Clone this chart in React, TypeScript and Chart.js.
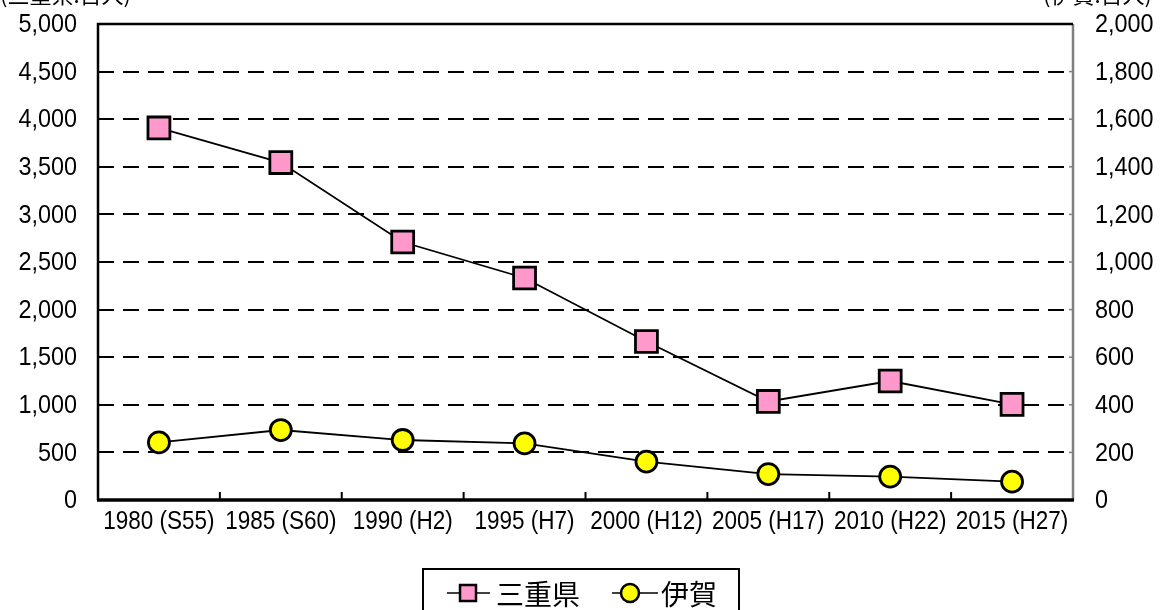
import React, { useEffect, useRef } from "react";
import { Chart, registerables } from "chart.js";

Chart.register(...registerables);

const categories = ["1980 (S55)", "1985 (S60)", "1990 (H2)", "1995 (H7)", "2000 (H12)", "2005 (H17)", "2010 (H22)", "2015 (H27)"];
const mieValues = [3908, 3545, 2710, 2332, 1665, 1035, 1250, 1005];
const igaValues = [242, 294, 252, 238, 161, 109, 98, 77];
const seriesNames = ["三重県", "伊賀"];
const leftAxisTitle = "(三重県:百人)";
const rightAxisTitle = "(伊賀:百人)";
const leftMax = 5000;
const leftStep = 500;
const rightMax = 2000;
const rightStep = 200;

const NUM_FONT = "'Liberation Sans', Arial, sans-serif";
const CJK_FONT = "'Noto Sans CJK JP', sans-serif";

const fmt = (v: number) => Number(v).toLocaleString("en-US");

function drawNarrow(ctx: any, text: string, x: number, y: number, align: string, sx: number) {
  ctx.save();
  ctx.translate(x, y);
  ctx.scale(sx, 1);
  ctx.textAlign = align;
  ctx.textBaseline = "middle";
  ctx.fillText(text, 0, 0);
  ctx.restore();
}

const framePlugin = {
  id: "frame",
  beforeDatasetsDraw(chart: any) {
    const { ctx, chartArea } = chart;
    const { left, right, top, bottom } = chartArea;
    ctx.save();
    const xs = chart.scales.x;
    ctx.strokeStyle = "#000";
    ctx.lineWidth = 2;
    for (let i = 1; i < categories.length; i++) {
      const x = (xs.getPixelForTick(i - 1) + xs.getPixelForTick(i)) / 2;
      ctx.beginPath();
      ctx.moveTo(x, bottom);
      ctx.lineTo(x, bottom - 8);
      ctx.stroke();
    }
    const y1 = chart.scales.y1;
    ctx.strokeStyle = "#808080";
    ctx.lineWidth = 1.5;
    for (let v = 0; v <= rightMax; v += rightStep) {
      const y = y1.getPixelForValue(v);
      ctx.beginPath();
      ctx.moveTo(right, y);
      ctx.lineTo(right - 4, y);
      ctx.stroke();
    }
    ctx.strokeStyle = "#808080";
    ctx.lineWidth = 2.5;
    ctx.beginPath();
    ctx.moveTo(right, top);
    ctx.lineTo(right, bottom);
    ctx.stroke();
    ctx.strokeStyle = "#000";
    ctx.lineWidth = 2.5;
    ctx.beginPath();
    ctx.moveTo(right, top);
    ctx.lineTo(left, top);
    ctx.lineTo(left, bottom);
    ctx.stroke();
    ctx.lineWidth = 3.5;
    ctx.beginPath();
    ctx.moveTo(left - 1, bottom);
    ctx.lineTo(right + 1, bottom);
    ctx.stroke();
    ctx.restore();
  },
  afterDraw(chart: any) {
    const { ctx } = chart;
    ctx.save();
    ctx.fillStyle = "#000";

    ctx.font = `26px ${NUM_FONT}`;
    const ys = chart.scales.y;
    ys.ticks.forEach((t: any) => {
      drawNarrow(ctx, fmt(t.value), 77, ys.getPixelForValue(t.value) + 1, "right", 0.9);
    });
    const y1 = chart.scales.y1;
    y1.ticks.forEach((t: any) => {
      drawNarrow(ctx, fmt(t.value), 1095, y1.getPixelForValue(t.value) + 1, "left", 0.9);
    });
    const xs = chart.scales.x;
    ctx.font = `25px ${NUM_FONT}`;
    categories.forEach((c, i) => {
      drawNarrow(ctx, c, xs.getPixelForTick(i), 522, "center", 0.9);
    });

    ctx.font = `22px ${CJK_FONT}`;
    ctx.textBaseline = "alphabetic";
    ctx.textAlign = "left";
    ctx.fillText(leftAxisTitle, 0, 3);
    ctx.textAlign = "right";
    ctx.fillText(rightAxisTitle, 1152, 3);

    const bx = 423, by = 569, bw = 316, bh = 60;
    ctx.strokeStyle = "#000";
    ctx.lineWidth = 2;
    ctx.strokeRect(bx, by, bw, bh);
    const ly = 593;
    ctx.lineWidth = 1.5;
    ctx.beginPath();
    ctx.moveTo(447, ly);
    ctx.lineTo(490, ly);
    ctx.stroke();
    ctx.fillStyle = "#FF99CC";
    ctx.lineWidth = 2.5;
    ctx.fillRect(460, ly - 8, 16, 16);
    ctx.strokeRect(460, ly - 8, 16, 16);
    ctx.lineWidth = 1.5;
    ctx.beginPath();
    ctx.moveTo(612, ly);
    ctx.lineTo(658, ly);
    ctx.stroke();
    ctx.fillStyle = "#FFFF00";
    ctx.lineWidth = 2.5;
    ctx.beginPath();
    ctx.arc(630, ly, 9, 0, Math.PI * 2);
    ctx.fill();
    ctx.stroke();
    ctx.fillStyle = "#000";
    ctx.font = `28px ${CJK_FONT}`;
    ctx.textAlign = "left";
    ctx.textBaseline = "middle";
    ctx.fillText(seriesNames[0], 496, ly + 1);
    ctx.fillText(seriesNames[1], 661, ly + 1);
    ctx.restore();
  },
};

export default function App() {
  const ref = useRef<HTMLCanvasElement | null>(null);
  useEffect(() => {
    document.body.style.margin = "0";
    const canvas = ref.current;
    if (!canvas) return;
    const chart = new Chart(canvas, {
      type: "line",
      data: {
        labels: categories,
        datasets: [
          {
            label: seriesNames[0],
            data: mieValues,
            yAxisID: "y",
            borderColor: "#000",
            borderWidth: 1.8,
            pointStyle: "rect",
            pointRadius: 15.5,
            pointBackgroundColor: "#FF99CC",
            pointBorderColor: "#000",
            pointBorderWidth: 2.8,
            tension: 0,
          },
          {
            label: seriesNames[1],
            data: igaValues,
            yAxisID: "y1",
            borderColor: "#000",
            borderWidth: 1.8,
            pointStyle: "circle",
            pointRadius: 10.5,
            pointBackgroundColor: "#FFFF00",
            pointBorderColor: "#000",
            pointBorderWidth: 2.8,
            tension: 0,
          },
        ],
      },
      options: {
        animation: false,
        responsive: false,
        maintainAspectRatio: false,
        layout: { padding: { top: 24, left: 0, right: 0, bottom: 0 } },
        plugins: { legend: { display: false }, tooltip: { enabled: false } },
        scales: {
          x: {
            offset: true,
            grid: { display: false, drawTicks: false },
            border: { display: false },
            ticks: { display: false, autoSkip: false, maxRotation: 0 },
            afterFit: (s: any) => { s.height = 110; },
          },
          y: {
            position: "left",
            min: 0,
            max: leftMax,
            ticks: { display: false, stepSize: leftStep },
            grid: {
              drawTicks: false,
              lineWidth: 2,
              color: (c: any) => (c.tick && (c.tick.value === 0 || c.tick.value === leftMax) ? "rgba(0,0,0,0)" : "#000"),
            },
            border: { display: false, dash: [16, 9] },
            afterFit: (s: any) => { s.width = 98; },
          },
          y1: {
            position: "right",
            min: 0,
            max: rightMax,
            ticks: { display: false, stepSize: rightStep },
            grid: { display: false, drawTicks: false, drawOnChartArea: false },
            border: { display: false },
            afterFit: (s: any) => { s.width = 93; },
          },
        },
      },
      plugins: [framePlugin],
    });
    return () => chart.destroy();
  }, []);
  return <canvas ref={ref} width={1166} height={610} style={{ display: "block" }} />;
}
